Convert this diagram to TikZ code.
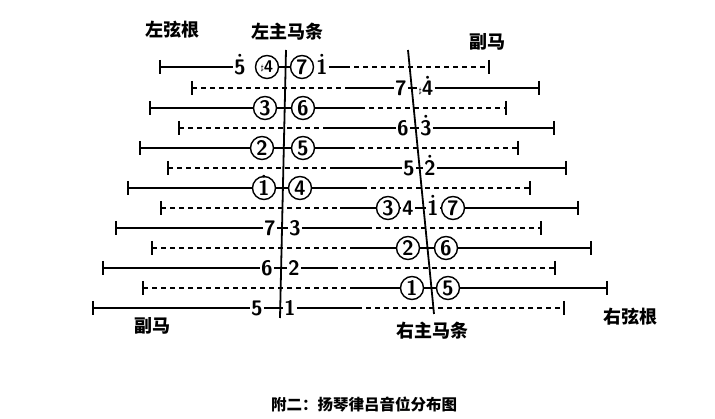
\documentclass[tikz,border=0pt]{standalone}
\usepackage{fontspec}
\newfontfamily\cjk{Noto Sans CJK SC}

\newcommand\hi[1]{\setbox0\hbox{#1}\rlap{\hbox to\wd0{\hss\raisebox{\dimexpr\ht0+1.5pt\relax}[0pt][0pt]{\scriptsize$\bullet$}\hss}}\box0}
\newcommand\sh{\raisebox{2pt}{\footnotesize$\sharp$}}

\tikzset{
  note/.style={font=\sffamily\bfseries\fontsize{21}{21}\selectfont, inner sep=1pt},
  plain/.style={note},
  ring/.style={note, circle, draw, line width=1.4pt, minimum size=23pt, inner sep=0pt},
  string/.style={line width=1.7pt},
  dashstring/.style={line width=1.4pt, dash pattern=on 5pt off 4pt},
  tick/.style={line width=2.4pt},
  bridge/.style={line width=1.8pt},
  label/.style={font=\cjk\bfseries\fontsize{18}{18}\selectfont},
}

\begin{document}
\begin{tikzpicture}[x=1pt, y=-1pt]
  \useasboundingbox (0,0) rectangle (715,419);

  % the two main bridges
  \coordinate (lbt) at (286,50);
  \coordinate (lbb) at (280,318);
  \coordinate (rbt) at (408,50);
  \coordinate (rbb) at (434,314);
  \draw[bridge] (lbt) -- (lbb);
  \draw[bridge] (rbt) -- (rbb);

  % strings that rest on the left bridge
  \foreach \r/\y/\xl/\na/\xa/\nb/\xb/\xs/\xr/\sty in {
      3/108/150/3/265/6/303/360/506/ring,
      5/148/140/2/262/5/303/350/518/ring,
      7/188/128/\hi{1}/264/4/300/362/530/ring,
      9/228/116/7/270/3/295/367/541/plain,
      11/268/103/6/267/2/294/333/555/plain,
      13/308/93/5/257/1/290/357/564/plain} {
      \coordinate (l\r) at (\xl,\y);
      \coordinate (s\r) at (\xs,\y);
      \coordinate (e\r) at (\xr,\y);
      \node[\sty] (a\r) at (\xa,\y) {\na};
      \node[\sty] (b\r) at (\xb,\y) {\nb};
      \draw[string] (l\r) -- (a\r);
      \draw[string] (a\r) -- (b\r);
      \draw[string] (b\r) -- (s\r);
      \draw[dashstring] (s\r) -- (e\r);
      \draw[tick] (l\r) ++(0,-7) -- ++(0,14);
      \draw[tick] (e\r) ++(0,-7) -- ++(0,14);
    }

  % strings that pass over to the right bridge
  \foreach \r/\y/\xl/\xs/\na/\xa/\nb/\xb/\xr/\sty in {
      2/88/192/347/7/401/\sh\hi{4}/426/539/plain,
      4/128/179/325/6/403/\hi{3}/426/554/plain,
      6/168/168/330/5/409/\hi{2}/430/566/plain,
      10/248/152/355/2/408/6/446/591/ring,
      12/288/143/350/1/412/5/448/607/ring} {
      \coordinate (l\r) at (\xl,\y);
      \coordinate (s\r) at (\xs,\y);
      \coordinate (e\r) at (\xr,\y);
      \node[\sty] (a\r) at (\xa,\y) {\na};
      \node[\sty] (b\r) at (\xb,\y) {\nb};
      \draw[dashstring] (l\r) -- (s\r);
      \draw[string] (s\r) -- (a\r);
      \draw[string] (a\r) -- (b\r);
      \draw[string] (b\r) -- (e\r);
      \draw[tick] (l\r) ++(0,-7) -- ++(0,14);
      \draw[tick] (e\r) ++(0,-7) -- ++(0,14);
    }

  % top string
  \coordinate (l1) at (160,67);
  \node[plain] (o1) at (240,67) {\hi{5}};
  \node[ring, font=\sffamily\bfseries\fontsize{17}{17}\selectfont] (a1) at (267,67) {\sh4};
  \node[ring] (b1) at (302,67) {7};
  \node[plain] (p1) at (322,67) {\hi{1}};
  \coordinate (s1) at (345,67);
  \coordinate (e1) at (489,67);
  \draw[string] (l1) -- (o1);
  \draw[string] (a1) -- (b1);
  \draw[string] (p1) -- (s1);
  \draw[dashstring] (s1) -- (e1);
  \draw[tick] (l1) ++(0,-7) -- ++(0,14);
  \draw[tick] (e1) ++(0,-7) -- ++(0,14);

  % middle string with four notes
  \coordinate (l8) at (161,208);
  \coordinate (s8) at (340,208);
  \node[ring] (a8) at (388,208) {3};
  \node[plain] (f8) at (408,208) {4};
  \node[plain] (g8) at (433,208) {\hi{1}};
  \node[ring] (b8) at (453,208) {7};
  \coordinate (e8) at (578,208);
  \draw[dashstring] (l8) -- (s8);
  \draw[string] (s8) -- (a8);
  \draw[string] (a8) -- (f8);
  \draw[string] (f8) -- (g8);
  \draw[string] (g8) -- (b8);
  \draw[string] (b8) -- (e8);
  \draw[tick] (l8) ++(0,-7) -- ++(0,14);
  \draw[tick] (e8) ++(0,-7) -- ++(0,14);

  % labels
  \node[label] (lroot) at (172,30) {左弦根};
  \node[label] (lbridge) at (287,32) {左主马条};
  \node[label] (rside) at (487,42) {副马};
  \node[label] (lside) at (152,326) {副马};
  \node[label] (rbridge) at (432,331) {右主马条};
  \node[label] (rroot) at (630,317) {右弦根};
  \node[label, font=\cjk\bfseries\fontsize{15.5}{15.5}\selectfont] (cap) at (364,405) {附二：扬琴律吕音位分布图};

\end{tikzpicture}
\end{document}
